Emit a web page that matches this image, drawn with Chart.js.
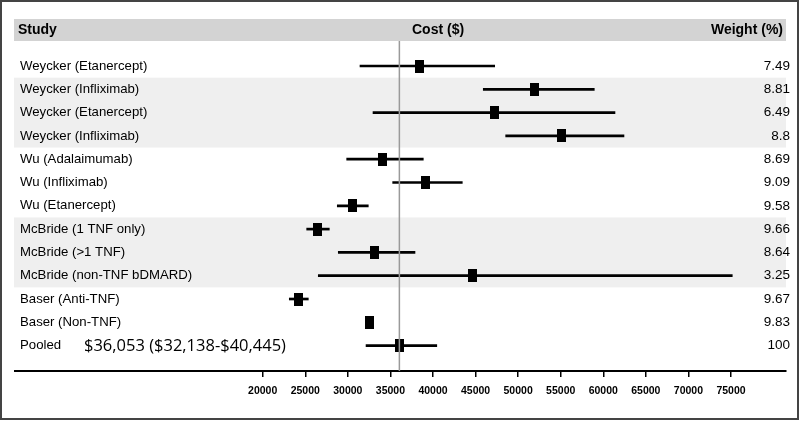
<!DOCTYPE html>
<html>
<head>
<meta charset="utf-8">
<script src="https://cdn.jsdelivr.net/npm/chart.js@4/dist/chart.umd.min.js"></script>
<style>
  html, body { margin: 0; padding: 0; background: #fff; }
  #wrap { width: 800px; height: 421px; position: relative; }
</style>
</head>
<body>
<div id="wrap"><canvas id="c" width="800" height="421"></canvas></div>
<script>
const studies = [
  'Weycker (Etanercept)', 'Weycker (Infliximab)', 'Weycker (Etanercept)', 'Weycker (Infliximab)',
  'Wu (Adalaimumab)', 'Wu (Infliximab)', 'Wu (Etanercept)',
  'McBride (1 TNF only)', 'McBride (>1 TNF)', 'McBride (non-TNF bDMARD)',
  'Baser (Anti-TNF)', 'Baser (Non-TNF)', 'Pooled'
];
const estimates = [38473, 51978, 47199, 55067, 34046, 39096, 30523, 26459, 33106, 44662, 24263, 32601, 36053];
const ciLow  = [31427, 45907, 32956, 48538, 29865, 35267, 28761, 25167, 28879, 26530, 23124, 32300, 32138];
const ciHigh = [47246, 58943, 61374, 62431, 38861, 43441, 32401, 27821, 37886, 75148, 25355, 32900, 40445];
const weights = ['7.49', '8.81', '6.49', '8.8', '8.69', '9.09', '9.58', '9.66', '8.64', '3.25', '9.67', '9.83', '100'];
const xTickValues = [20000, 25000, 30000, 35000, 40000, 45000, 50000, 55000, 60000, 65000, 70000, 75000];
const pooledEstimate = 36053;
const pooledText = '$36,053 ($32,138-$40,445)';
const headers = ['Study', 'Cost ($)', 'Weight (%)'];
const shadedRows = [[1, 3], [7, 9]];

const FONT = "'Liberation Sans', Arial, sans-serif";

// marker image (black rectangle)
const marker = document.createElement('canvas');
marker.width = 9; marker.height = 13;
(function () { const g = marker.getContext('2d'); g.fillStyle = '#000'; g.fillRect(0, 0, 9, 13); })();

const yMin = -1.073, yMax = 13.09;

const decor = {
  id: 'decor',
  beforeDraw(chart) {
    const { ctx, scales } = chart;
    const y = scales.y;
    ctx.save();
    ctx.fillStyle = '#fff';
    ctx.fillRect(0, 0, chart.width, chart.height);
    ctx.fillStyle = '#d3d3d3';
    ctx.fillRect(14, 19, 772, 22);
    ctx.fillStyle = '#efefef';
    shadedRows.forEach(([a, b]) => {
      const t = y.getPixelForValue(a - 0.5);
      const bt = y.getPixelForValue(b + 0.5);
      ctx.fillRect(14, t, 772, bt - t);
    });
    ctx.fillStyle = '#000';
    ctx.font = "bold 14px " + FONT;
    ctx.textBaseline = 'middle';
    ctx.textAlign = 'left';
    ctx.fillText(headers[0], 18, 30.5);
    ctx.fillText(headers[1], 412, 30.5);
    ctx.textAlign = 'right';
    ctx.fillText(headers[2], 783, 30.5);
    ctx.restore();
  },
  afterDraw(chart) {
    const { ctx, scales } = chart;
    const y = scales.y;
    ctx.save();
    ctx.fillStyle = '#000';
    ctx.font = "16.5px 'Open Sans', 'Noto Sans', sans-serif";
    ctx.textBaseline = 'middle';
    ctx.textAlign = 'left';
    ctx.fillText(pooledText, 84, y.getPixelForValue(12) + 1);
    ctx.strokeStyle = '#444';
    ctx.lineWidth = 2;
    ctx.strokeRect(1, 1, 797, 418);
    ctx.restore();
  }
};

new Chart(document.getElementById('c'), {
  type: 'bar',
  data: {
    datasets: [
      {
        type: 'line',
        data: [{ x: pooledEstimate, y: yMin }, { x: pooledEstimate, y: yMax }],
        borderColor: '#9a9a9a',
        borderWidth: 1.5,
        pointRadius: 0,
        xAxisID: 'x', yAxisID: 'y'
      },
      {
        type: 'line',
        data: estimates.map((v, i) => ({ x: v, y: i })),
        showLine: false,
        pointStyle: marker,
        pointRadius: 5,
        xAxisID: 'x', yAxisID: 'y'
      },
      {
        type: 'bar',
        data: ciLow.map((v, i) => ({ x: [v, ciHigh[i]], y: i })),
        backgroundColor: '#000',
        borderWidth: 0,
        barThickness: 2,
        xAxisID: 'x', yAxisID: 'y'
      }
    ]
  },
  plugins: [decor],
  options: {
    indexAxis: 'y',
    responsive: false,
    animation: false,
    events: [],
    layout: { padding: { left: 15, right: 14, top: 41, bottom: 0 } },
    plugins: { legend: { display: false }, tooltip: { enabled: false } },
    scales: {
      x: {
        type: 'linear',
        position: 'bottom',
        min: -9091,
        max: 81460,
        offset: false,
        afterBuildTicks: (s) => { s.ticks = xTickValues.map(v => ({ value: v })); },
        afterFit: (s) => { s.height = 50; },
        grid: { display: true, drawOnChartArea: false, drawTicks: true, tickLength: 6, color: '#000', lineWidth: 1.5 },
        border: { display: true, color: '#000', width: 2 },
        ticks: {
          callback: (v) => String(v),
          color: '#000',
          padding: 8,
          maxRotation: 0,
          autoSkip: false,
          font: { family: FONT, size: 10.5, weight: 'bold' }
        }
      },
      y: {
        type: 'linear',
        position: 'left',
        reverse: true,
        offset: false,
        grace: 0,
        min: yMin,
        max: yMax,
        afterBuildTicks: (s) => { s.ticks = studies.map((_, i) => ({ value: i })); },
        afterFit: (s) => { s.width = 0; },
        grid: { display: false },
        border: { display: false },
        ticks: {
          mirror: true,
          padding: 5,
          autoSkip: false,
          color: '#000',
          callback: (v) => studies[v],
          font: { family: FONT, size: 13.2 }
        }
      },
      y2: {
        type: 'linear',
        position: 'right',
        reverse: true,
        offset: false,
        grace: 0,
        min: yMin,
        max: yMax,
        afterBuildTicks: (s) => { s.ticks = weights.map((_, i) => ({ value: i })); },
        afterFit: (s) => { s.width = 0; },
        grid: { display: false },
        border: { display: false },
        ticks: {
          mirror: true,
          padding: 4,
          autoSkip: false,
          color: '#000',
          callback: (v) => weights[v],
          font: { family: FONT, size: 13.5 }
        }
      }
    }
  }
});
</script>
</body>
</html>
